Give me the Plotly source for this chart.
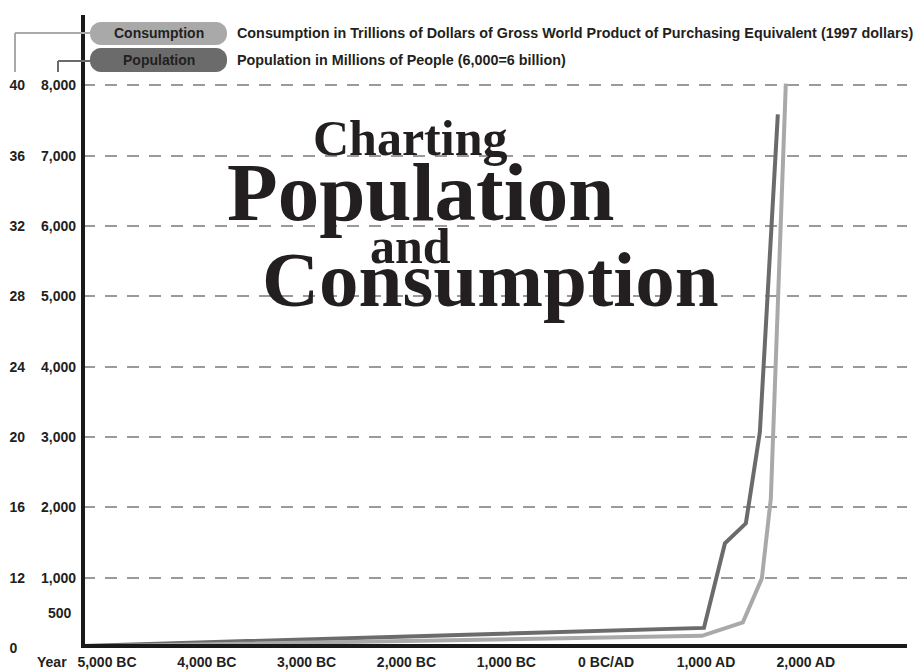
import plotly.graph_objects as go

# ---------------- data ----------------
pop_years = [-5240, 980, 1190, 1400, 1540, 1720]
pop_values = [30, 286, 1487, 1772, 3066, 7586]          # millions of people

cons_years = [-5240, 960, 1370, 1560, 1650, 1800]
cons_values = [8.09, 8.69, 9.46, 11.96, 16.5, 40.1]     # trillions of 1997 dollars (chart's left scale)

year_ticks = [-5000, -4000, -3000, -2000, -1000, 0, 1000, 2000]
year_labels = ["5,000 BC", "4,000 BC", "3,000 BC", "2,000 BC", "1,000 BC",
               "0 BC/AD", "1,000 AD", "2,000 AD"]

pop_ticks = [1000, 2000, 3000, 4000, 5000, 6000, 7000, 8000]
pop_labels = ["1,000", "2,000", "3,000", "4,000", "5,000", "6,000", "7,000", "8,000"]

cons_ticks = [8, 12, 16, 20, 24, 28, 32, 36, 40]
cons_labels = ["0\u00a0\u00a0", "12", "16", "20", "24", "28", "32", "36", "40"]

# ---------------- geometry ----------------
W, H = 913, 670
ML, MR, MT, MB = 83, 6, 15, 22
PW = W - ML - MR
PH = H - MT - MB

def px(x):
    return (x - ML) / PW

def py(y):
    return (H - MB - y) / PH

TXT = "#231f20"
DARK = "#6b6b6b"
LIGHT = "#a9a9a9"
SANS = "Liberation Sans, Arial, sans-serif"
SERIF = "Liberation Serif, Times New Roman, serif"

fig = go.Figure()
fig.add_trace(go.Scatter(x=cons_years, y=cons_values, yaxis="y2", mode="lines",
                         line=dict(color=LIGHT, width=4), hoverinfo="skip",
                         cliponaxis=False, name="Consumption"))
fig.add_trace(go.Scatter(x=pop_years, y=pop_values, mode="lines",
                         line=dict(color=DARK, width=4), hoverinfo="skip",
                         cliponaxis=False, name="Population"))

tickfont = dict(family=SANS, size=14, color=TXT, weight=700)

fig.update_layout(
    template="none",
    width=W, height=H,
    margin=dict(l=ML, r=MR, t=MT, b=MB, autoexpand=False),
    paper_bgcolor="white", plot_bgcolor="white",
    showlegend=False,
    font=dict(family=SANS, color=TXT),
    xaxis=dict(range=[-5240, 3014], tickvals=year_ticks, ticktext=year_labels,
               showgrid=False, zeroline=False, showline=False, ticks="",
               tickfont=tickfont, automargin=False, ticklabelstandoff=4),
    yaxis=dict(range=[0, 9000], tickvals=pop_ticks, ticktext=pop_labels,
               showgrid=True, gridcolor="#9a9a9a", gridwidth=1.5, griddash="12px,10px",
               zeroline=False, showline=False, ticks="", tickfont=tickfont,
               automargin=False, ticklabelstandoff=6),
    yaxis2=dict(range=[8, 44], overlaying="y", side="left", anchor="x",
                tickvals=cons_ticks, ticktext=cons_labels,
                showgrid=False, zeroline=False, showline=False, ticks="",
                tickfont=tickfont, automargin=False, ticklabelstandoff=57),
)

shapes = []
# axis lines
shapes.append(dict(type="line", xref="paper", yref="paper", x0=px(83), x1=px(83),
                   y0=py(15), y1=py(648), line=dict(color="#1a1a1a", width=4)))
shapes.append(dict(type="line", xref="paper", yref="paper", x0=px(81), x1=px(907),
                   y0=py(646), y1=py(646), line=dict(color="#1a1a1a", width=4)))

# connector lines
for (xa, ya, xb, yb, c) in [(15, 33, 90, 33, LIGHT), (15, 33, 15, 72, LIGHT),
                            (58, 61, 90, 61, DARK), (58, 61, 58, 72, DARK)]:
    shapes.append(dict(type="line", xref="paper", yref="paper", x0=px(xa), x1=px(xb),
                       y0=py(ya), y1=py(yb), line=dict(color=c, width=2)))

def pill(x0, y0, x1, y1, r):
    k = 0.55 * r
    pts = [
        f"M{px(x0 + r)},{py(y0)}",
        f"L{px(x1 - r)},{py(y0)}",
        f"C{px(x1 - r + k)},{py(y0)} {px(x1)},{py(y0 + r - k)} {px(x1)},{py(y0 + r)}",
        f"L{px(x1)},{py(y1 - r)}",
        f"C{px(x1)},{py(y1 - r + k)} {px(x1 - r + k)},{py(y1)} {px(x1 - r)},{py(y1)}",
        f"L{px(x0 + r)},{py(y1)}",
        f"C{px(x0 + r - k)},{py(y1)} {px(x0)},{py(y1 - r + k)} {px(x0)},{py(y1 - r)}",
        f"L{px(x0)},{py(y0 + r)}",
        f"C{px(x0)},{py(y0 + r - k)} {px(x0 + r - k)},{py(y0)} {px(x0 + r)},{py(y0)}",
        "Z",
    ]
    return " ".join(pts)

shapes.append(dict(type="path", xref="paper", yref="paper", path=pill(90, 22, 227, 45, 11),
                   fillcolor=LIGHT, line=dict(width=0)))
shapes.append(dict(type="path", xref="paper", yref="paper", path=pill(90, 48, 227, 72, 11),
                   fillcolor=DARK, line=dict(width=0)))
fig.update_layout(shapes=shapes)

ann = []
def text(x, y, s, size, family=SANS, xanchor="center", weight=700, color=TXT):
    ann.append(dict(x=px(x), y=py(y), xref="paper", yref="paper", text=s,
                    showarrow=False, xanchor=xanchor, yanchor="middle",
                    font=dict(family=family, size=size, color=color, weight=weight)))

text(159, 33.5, "Consumption", 14)
text(159, 60, "Population", 14)
text(235, 33.5, "Consumption in Trillions of Dollars of Gross World Product of Purchasing Equivalent (1997 dollars)",
     14.35, xanchor="left")
text(235, 60, "Population in Millions of People (6,000=6 billion)", 14.35, xanchor="left")
text(52, 662, "Year", 14)

ann.append(dict(x=px(74), y=500, xref="paper", yref="y", text="500", showarrow=False,
                xanchor="right", yanchor="middle", font=dict(family=SANS, size=14, color=TXT, weight=700)))

# title block
text(410, 138, "Charting", 50, family=SERIF)
text(420, 192, "Population", 83, family=SERIF)
text(410, 246, "and", 50, family=SERIF)
text(490, 279, "Consumption", 79, family=SERIF)

fig.update_layout(annotations=ann)

fig.write_html("out.html")
